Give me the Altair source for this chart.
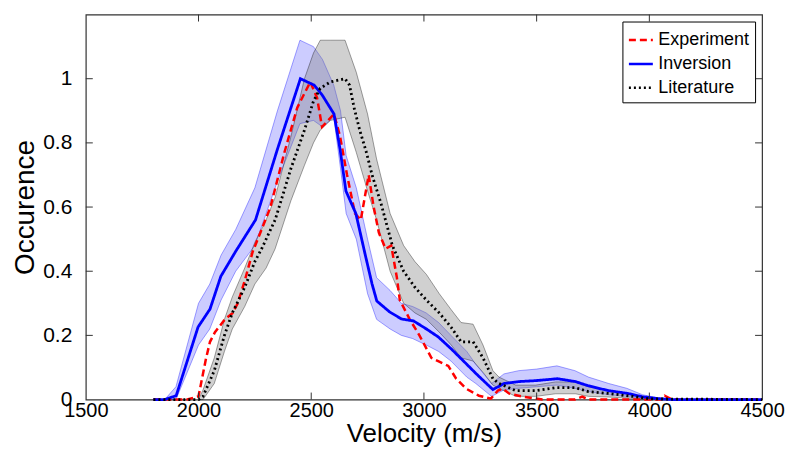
import altair as alt
import pandas as pd

# ---------------- data ----------------
series_names = ["Experiment", "Inversion", "Literature"]
series_colors = ["#ff0000", "#0000ff", "#000000"]
series_dashes = [[7, 4], [1, 0], [2, 3]]

x_ticks = [1500, 2000, 2500, 3000, 3500, 4000, 4500]
y_ticks = [0, 0.2, 0.4, 0.6, 0.8, 1.0]

exp_v = [1800, 1900, 1950, 2000, 2033, 2051, 2073, 2117, 2152, 2174, 2205, 2240, 2280,
         2319, 2381, 2438, 2496, 2526, 2548, 2575, 2601, 2628, 2659, 2694, 2720, 2755,
         2777, 2800, 2830, 2855, 2880, 2893, 2937, 2980, 3033, 3068, 3108, 3143, 3187,
         3244, 3297, 3328, 3350, 3377, 3438, 3526, 3670, 3702, 3730, 4050, 4068, 4100, 4500]
exp_occ = [0, 0, 0, 0.01, 0.127, 0.18, 0.21, 0.25, 0.27, 0.30, 0.37, 0.46, 0.53,
           0.60, 0.77, 0.91, 0.99, 0.94, 0.85, 0.87, 0.89, 0.82, 0.70, 0.58, 0.56, 0.70,
           0.60, 0.52, 0.47, 0.48, 0.38, 0.31, 0.25, 0.20, 0.13, 0.118, 0.105, 0.065, 0.034,
           0.012, 0.003, 0.028, 0.034, 0.019, 0.009, 0, 0, 0.009, 0, 0, 0.012, 0, 0]

inv_v = [1800, 1850, 1901, 1998, 2051, 2099, 2165, 2253, 2350, 2452, 2513, 2548, 2601,
         2628, 2654, 2698, 2740, 2770, 2791, 2848, 2901, 2954, 3011, 3064, 3121, 3187,
         3231, 3306, 3355, 3421, 3496, 3593, 3672, 3729, 3817, 3905, 3967, 4037, 4100, 4500]
inv_occ = [0, 0, 0.012, 0.226, 0.282, 0.384, 0.462, 0.56, 0.78, 1.0, 0.98, 0.95, 0.89,
           0.78, 0.65, 0.58, 0.45, 0.36, 0.307, 0.273, 0.251, 0.245, 0.22, 0.195, 0.158, 0.112,
           0.081, 0.031, 0.05, 0.056, 0.059, 0.065, 0.056, 0.043, 0.028, 0.019, 0.009, 0.003, 0, 0]

inv_band_v = [1850, 1900, 2000, 2050, 2100, 2165, 2250, 2350, 2450, 2510, 2550, 2600, 2630,
              2655, 2700, 2750, 2790, 2850, 2900, 2950, 3010, 3065, 3120, 3190, 3230, 3300,
              3355, 3420, 3500, 3590, 3670, 3730, 3820, 3900, 3970, 4040, 4100]
inv_band_hi = [0, 0.04, 0.30, 0.36, 0.45, 0.53, 0.66, 0.90, 1.12, 1.10, 1.06, 0.98, 0.90,
               0.76, 0.66, 0.50, 0.38, 0.34, 0.30, 0.29, 0.27, 0.24, 0.20, 0.15, 0.11, 0.05,
               0.08, 0.09, 0.095, 0.105, 0.09, 0.07, 0.05, 0.035, 0.015, 0.005, 0]
inv_band_lo = [0, 0, 0.17, 0.22, 0.31, 0.40, 0.48, 0.68, 0.86, 0.87, 0.85, 0.88, 0.72,
               0.58, 0.50, 0.33, 0.25, 0.22, 0.20, 0.19, 0.17, 0.15, 0.12, 0.07, 0.05, 0.01,
               0.03, 0.035, 0.04, 0.045, 0.035, 0.025, 0.015, 0.01, 0.003, 0, 0]

lit_v = [1800, 2000, 2020, 2070, 2115, 2150, 2205, 2250, 2280, 2340, 2410, 2470, 2510,
         2540, 2585, 2650, 2670, 2690, 2715, 2745, 2770, 2810, 2860, 2910, 2960, 3011,
         3068, 3121, 3165, 3218, 3262, 3306, 3333, 3407, 3496, 3584, 3672, 3729, 3817,
         3936, 4000, 4500]
lit_occ = [0, 0, 0.01, 0.09, 0.20, 0.27, 0.35, 0.43, 0.47, 0.56, 0.72, 0.84, 0.93,
           0.97, 0.99, 1.0, 0.98, 0.91, 0.84, 0.77, 0.70, 0.61, 0.48, 0.40, 0.35, 0.31,
           0.27, 0.225, 0.18, 0.18, 0.13, 0.065, 0.05, 0.028, 0.028, 0.037, 0.037, 0.025, 0.019,
           0.009, 0.002, 0]

lit_band_v = [2000, 2020, 2070, 2115, 2150, 2205, 2250, 2300, 2340, 2410, 2470, 2510, 2540,
              2585, 2650, 2700, 2750, 2790, 2850, 2910, 2960, 3011, 3068, 3121, 3165, 3218,
              3262, 3306, 3333, 3407, 3496, 3584, 3672, 3729, 3817, 3936, 4000, 4050]
lit_band_hi = [0, 0.03, 0.13, 0.25, 0.32, 0.41, 0.49, 0.56, 0.63, 0.82, 1.0, 1.08, 1.12,
               1.12, 1.12, 1.02, 0.89, 0.75, 0.58, 0.48, 0.43, 0.39, 0.33, 0.28, 0.24, 0.235,
               0.17, 0.09, 0.07, 0.045, 0.045, 0.055, 0.055, 0.04, 0.03, 0.015, 0.005, 0]
lit_band_lo = [0, 0, 0.05, 0.15, 0.22, 0.29, 0.36, 0.41, 0.47, 0.62, 0.73, 0.80, 0.84,
               0.87, 0.88, 0.77, 0.65, 0.56, 0.40, 0.30, 0.27, 0.25, 0.21, 0.17, 0.13, 0.12,
               0.085, 0.045, 0.035, 0.01, 0.01, 0.018, 0.018, 0.01, 0.008, 0.003, 0, 0]

# ---------------- build tables ----------------
exp_df = pd.DataFrame({"v": exp_v, "occ": exp_occ, "series": "Experiment"})
inv_df = pd.DataFrame({"v": inv_v, "occ": inv_occ, "series": "Inversion"})
lit_df = pd.DataFrame({"v": lit_v, "occ": lit_occ, "series": "Literature"})
inv_band = pd.DataFrame({"v": inv_band_v, "lo": inv_band_lo, "hi": inv_band_hi})
lit_band = pd.DataFrame({"v": lit_band_v, "lo": lit_band_lo, "hi": lit_band_hi})
xt_df = pd.DataFrame({"t": x_ticks[1:-1]})
yt_df = pd.DataFrame({"t": y_ticks[1:]})

W, H = 678, 386
FONT = "Liberation Sans"
TICK = 7

xscale = alt.Scale(domain=[1500, 4500], nice=False)
yscale = alt.Scale(domain=[0, 1.2], nice=False)

xaxis = alt.Axis(values=x_ticks, format="d", title="Velocity (m/s)", ticks=False, domain=False,
                 grid=False, labelFontSize=20, titleFontSize=26, labelPadding=1, titlePadding=0,
                 labelFlush=False, labelOverlap=False, titleFontWeight="normal",
                 labelColor="black", titleColor="black")
yaxis = alt.Axis(values=y_ticks, format="~g", title="Occurence", ticks=False, domain=False,
                 grid=False, labelFontSize=21, titleFontSize=28, labelPadding=14, titlePadding=3,
                 labelFlush=False, labelOverlap=False, titleFontWeight="normal",
                 labelColor="black", titleColor="black")

color_enc = alt.Color("series:N", scale=alt.Scale(domain=series_names, range=series_colors),
                      legend=alt.Legend(title=None))
dash_enc = alt.StrokeDash("series:N", scale=alt.Scale(domain=series_names, range=series_dashes),
                          legend=alt.Legend(title=None))

band_inv = alt.Chart(inv_band).mark_area(
    fill="#0000ff", fillOpacity=0.2, stroke="#0000ff", strokeOpacity=0.45, strokeWidth=0.8
).encode(x=alt.X("v:Q", scale=xscale, axis=xaxis), y=alt.Y("lo:Q", scale=yscale, axis=yaxis), y2="hi:Q")

band_lit = alt.Chart(lit_band).mark_area(
    fill="#808080", fillOpacity=0.37, stroke="#000000", strokeOpacity=0.45, strokeWidth=0.8
).encode(x="v:Q", y="lo:Q", y2="hi:Q")

def line(df, w):
    return alt.Chart(df).mark_line(strokeWidth=w).encode(
        x="v:Q", y="occ:Q", color=color_enc, strokeDash=dash_enc)

l_exp = line(exp_df, 2.5)
l_inv = line(inv_df, 2.8)
l_lit = line(lit_df, 2.8)

tick_color = "#333333"
t_bottom = alt.Chart(xt_df).mark_rule(color=tick_color, strokeWidth=1).encode(
    x="t:Q", y=alt.value(H), y2=alt.value(H - TICK))
t_top = alt.Chart(xt_df).mark_rule(color=tick_color, strokeWidth=1).encode(
    x="t:Q", y=alt.value(0), y2=alt.value(TICK))
t_left = alt.Chart(yt_df).mark_rule(color=tick_color, strokeWidth=1).encode(
    y="t:Q", x=alt.value(0), x2=alt.value(TICK))
t_right = alt.Chart(yt_df).mark_rule(color=tick_color, strokeWidth=1).encode(
    y="t:Q", x=alt.value(W), x2=alt.value(W - TICK))

chart = alt.layer(
    band_inv, band_lit, l_exp, l_inv, l_lit, t_bottom, t_top, t_left, t_right
).properties(
    width=W, height=H, padding={"left": 3, "top": 5, "right": 0, "bottom": 0}
).configure(
    font=FONT
).configure_view(
    stroke="#333333", strokeWidth=1.2
).configure_legend(
    orient="top-right", offset=7, padding=5, fillColor="white", strokeColor="black",
    labelFontSize=18, labelColor="black", symbolType="stroke", symbolSize=576,
    symbolStrokeWidth=2.5, labelOffset=4, rowPadding=1, cornerRadius=0, labelFont=FONT
)

chart.save("out.html", embed_options={"renderer": "svg", "actions": False})
